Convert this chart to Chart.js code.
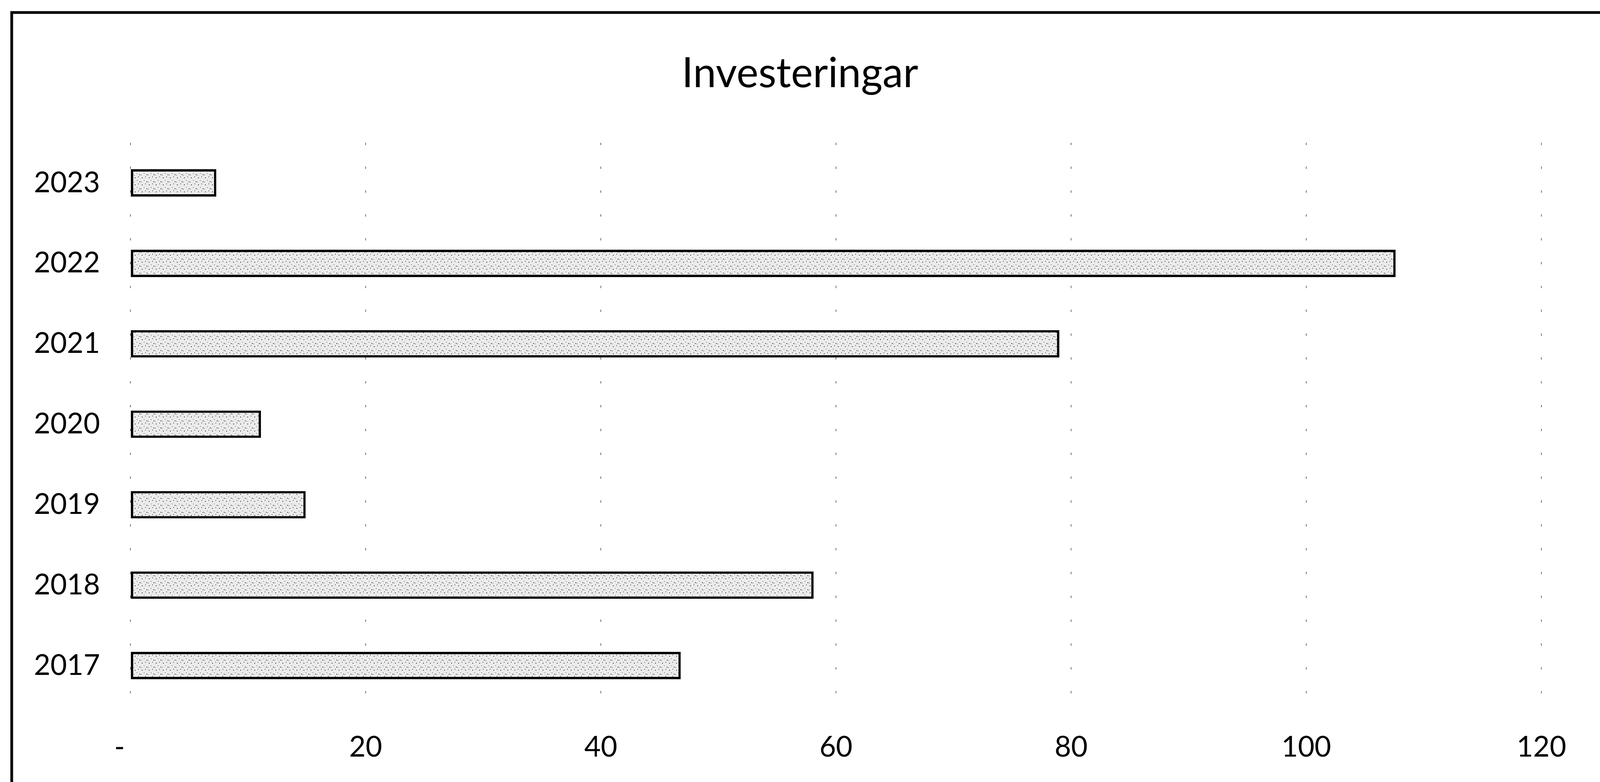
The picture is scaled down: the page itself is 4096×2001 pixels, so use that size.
<!DOCTYPE html>
<html>
<head>
<meta charset="utf-8">
<script src="https://cdn.jsdelivr.net/npm/chart.js@4"></script>
<style>
  html, body { margin: 0; padding: 0; background: #fff; }
  canvas { display: block; }
</style>
</head>
<body>
<canvas id="invChart" width="4096" height="2001"></canvas>
<script>
const years = ["2023", "2022", "2021", "2020", "2019", "2018", "2017"];
const amounts = [7.3, 107.6, 79.0, 11.1, 14.9, 58.1, 46.8];
const xMin = 0;
const xMax = 120;
const xStep = 20;

// light grey fill with a few dark specks, like the scanned original
function speckle() {
  const c = document.createElement("canvas");
  c.width = 18;
  c.height = 18;
  const g = c.getContext("2d");
  g.fillStyle = "#ebebeb";
  g.fillRect(0, 0, 18, 18);
  g.fillStyle = "#222";
  g.fillRect(3, 4, 2, 2);
  g.fillRect(12, 1, 1, 3);
  g.fillRect(8, 11, 2, 1);
  g.fillRect(15, 14, 2, 2);
  g.fillRect(1, 15, 1, 2);
  return g.createPattern(c, "repeat");
}

// outer frame (only top and left edge are in the picture)
const frame = {
  id: "frame",
  beforeDraw(chart) {
    const c = chart.ctx;
    c.save();
    c.strokeStyle = "#000";
    c.lineWidth = 7;
    c.beginPath();
    c.moveTo(30, chart.height);
    c.lineTo(30, 32);
    c.lineTo(chart.width, 32);
    c.stroke();
    c.restore();
  },
};

const ctx = document.getElementById("invChart").getContext("2d");

new Chart(ctx, {
  type: "bar",
  data: {
    labels: years,
    datasets: [
      {
        label: "Investeringar",
        data: amounts,
        backgroundColor: speckle(),
        borderColor: "#000",
        borderWidth: 6,
        borderSkipped: false,
        categoryPercentage: 1,
        barPercentage: 0.34,
      },
    ],
  },
  options: {
    indexAxis: "y",
    responsive: false,
    animation: false,
    devicePixelRatio: 1,
    layout: {
      padding: 0,
    },
    plugins: {
      legend: { display: false },
      tooltip: { enabled: false },
      title: {
        display: true,
        text: "Investeringar",
        color: "#000",
        font: { family: "Lato", size: 106, weight: "normal", lineHeight: 1.2 },
        padding: { top: 125, bottom: 113 },
      },
    },
    scales: {
      x: {
        min: xMin,
        max: xMax,
        grid: {
          display: true,
          drawTicks: false,
          color: "#6f6f6f",
          lineWidth: 2,
        },
        border: { display: false, dash: [6, 55] },
        ticks: {
          stepSize: xStep,
          padding: 63,
          color: "#000",
          font: { family: "Lato", size: 73 },
          callback: function (value) {
            return value === 0 ? "-   " : value;
          },
        },
        afterFit: function (scale) {
          scale.height = 195;
        },
      },
      y: {
        grid: { display: false, drawTicks: false },
        border: { display: false },
        ticks: {
          padding: 78,
          color: "#000",
          font: { family: "Lato", size: 73 },
        },
        afterFit: function (scale) {
          scale.width = 334;
        },
      },
      // empty right-hand space so the title stays centred on the whole chart
      yRight: {
        type: "category",
        position: "right",
        grid: { display: false, drawTicks: false },
        border: { display: false },
        ticks: { display: false },
        afterFit: function (scale) {
          scale.width = 150;
        },
      },
    },
  },
  plugins: [frame],
});
</script>
</body>
</html>
